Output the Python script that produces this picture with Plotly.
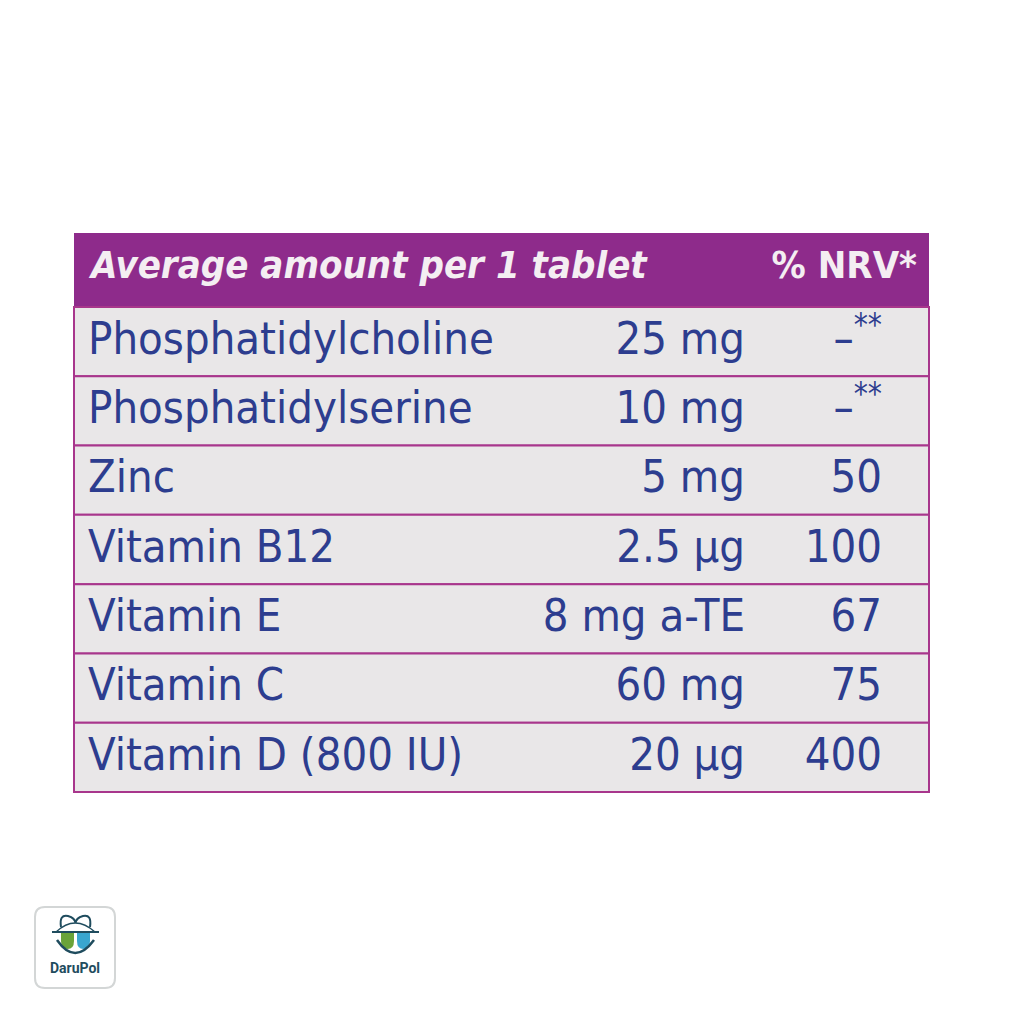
import plotly.graph_objects as go

# ---------------- data ----------------
header_left = "Average amount per 1 tablet"
header_right = "% NRV*"
nutrients = ["Phosphatidylcholine", "Phosphatidylserine", "Zinc", "Vitamin B12",
             "Vitamin E", "Vitamin C", "Vitamin D (800 IU)"]
amounts = ["25 mg", "10 mg", "5 mg", "2.5 µg", "8 mg a-TE", "60 mg", "20 µg"]
nrv = ["–<sup>**</sup>", "–<sup>**</sup>", "50", "100", "67", "75", "400"]

# ---------------- layout / style ----------------
PURPLE = "#8e2b8b"
LINE = "#a8368c"
CELL = "#e9e7e8"
BLUE = "#2d3d8f"
FONT = "DejaVu Sans Condensed, Liberation Sans Narrow, sans-serif"
BODY_OFF = 8  # default page body margin

X0, X1 = 74, 929
HEAD_TOP, HEAD_BOT = 233, 307
ROW_H = (792 - HEAD_BOT) / len(nutrients)
X_NAME, X_AMT, X_NRV = 88, 745, 882
FS = 45

fig = go.Figure()
shapes = []

# header band
shapes.append(dict(type="rect", xref="x", yref="y", x0=X0, x1=X1, y0=HEAD_TOP, y1=HEAD_BOT,
                   fillcolor=PURPLE, line=dict(width=0), layer="below"))

row_centers = []
for i in range(len(nutrients)):
    top = HEAD_BOT + i * ROW_H
    bot = top + ROW_H
    row_centers.append((top + bot) / 2)
    shapes.append(dict(type="rect", xref="x", yref="y", x0=X0, x1=X1, y0=top, y1=bot,
                       fillcolor=CELL, line=dict(color=LINE, width=2), layer="below"))

ty = [c + 1 for c in row_centers]
fig.add_trace(go.Scatter(x=[X_NAME] * len(nutrients), y=ty, text=nutrients,
                         mode="text", textposition="middle right",
                         textfont=dict(family=FONT, size=FS, color=BLUE), hoverinfo="skip"))
fig.add_trace(go.Scatter(x=[X_AMT] * len(amounts), y=ty, text=amounts,
                         mode="text", textposition="middle left",
                         textfont=dict(family=FONT, size=FS, color=BLUE), hoverinfo="skip"))
fig.add_trace(go.Scatter(x=[X_NRV] * len(nrv), y=ty, text=nrv,
                         mode="text", textposition="middle left",
                         textfont=dict(family=FONT, size=FS, color=BLUE), hoverinfo="skip"))

# header text
hc = (HEAD_TOP + HEAD_BOT) / 2
fig.add_trace(go.Scatter(x=[91], y=[hc - 2], text=[header_left], mode="text",
                         textposition="middle right",
                         textfont=dict(family=FONT, size=38, color="#f4eef2", weight="bold", style="italic"),
                         hoverinfo="skip"))
fig.add_trace(go.Scatter(x=[917], y=[hc - 2], text=[header_right], mode="text",
                         textposition="middle left",
                         textfont=dict(family=FONT, size=38, color="#f4eef2", weight="bold"),
                         hoverinfo="skip"))

# ---------------- logo (decoration) ----------------
def rounded_rect(x0, y0, x1, y1, r):
    return (f"M{x0+r},{y0} L{x1-r},{y0} Q{x1},{y0} {x1},{y0+r} L{x1},{y1-r} Q{x1},{y1} {x1-r},{y1} "
            f"L{x0+r},{y1} Q{x0},{y1} {x0},{y1-r} L{x0},{y0+r} Q{x0},{y0} {x0+r},{y0} Z")

DARK = "#1f4c5e"
shapes.append(dict(type="path", xref="x", yref="y", path=rounded_rect(35, 907, 115, 988, 10),
                   fillcolor="white", line=dict(color="#d3d6d6", width=2), layer="below"))
shapes.append(dict(type="path", xref="x", yref="y",
                   path="M61,932 L74,932 L74,941 Q74,949 67.5,949 Q61,949 61,941 Z",
                   fillcolor="#6aa33a", line=dict(width=0)))
shapes.append(dict(type="path", xref="x", yref="y",
                   path="M77,932 L90,932 L90,941 Q90,949 83.5,949 Q77,949 77,941 Z",
                   fillcolor="#3aa6cf", line=dict(width=0)))
shapes.append(dict(type="path", xref="x", yref="y",
                   path="M56,932 Q75,914 95,932", fillcolor="rgba(0,0,0,0)",
                   line=dict(color=DARK, width=1.5)))
shapes.append(dict(type="path", xref="x", yref="y",
                   path="M61,927 Q59,914 68,916 Q75,918 75.5,923 Q76,918 83,916 Q92,914 90,927",
                   fillcolor="rgba(0,0,0,0)", line=dict(color=DARK, width=2)))
shapes.append(dict(type="line", xref="x", yref="y", x0=52, x1=99, y0=932, y1=932,
                   line=dict(color=DARK, width=2)))
shapes.append(dict(type="path", xref="x", yref="y",
                   path="M57,940 Q75,966 94,940", fillcolor="rgba(0,0,0,0)",
                   line=dict(color=DARK, width=2.5)))
fig.add_trace(go.Scatter(x=[75], y=[969], text=["DaruPol"], mode="text", textposition="middle center",
                         textfont=dict(family="Roboto, Arial, sans-serif", size=14, color=DARK,
                                       weight="bold"), hoverinfo="skip"))

fig.update_layout(
    width=1024 - 2 * BODY_OFF, height=1024 - 2 * BODY_OFF,
    margin=dict(l=0, r=0, t=0, b=0),
    paper_bgcolor="white", plot_bgcolor="white",
    showlegend=False,
    shapes=shapes,
    xaxis=dict(range=[BODY_OFF, 1024 - BODY_OFF], visible=False, fixedrange=True),
    yaxis=dict(range=[1024 - BODY_OFF, BODY_OFF], visible=False, fixedrange=True),
)

fig.write_html("out.html", config={"displayModeBar": False})
